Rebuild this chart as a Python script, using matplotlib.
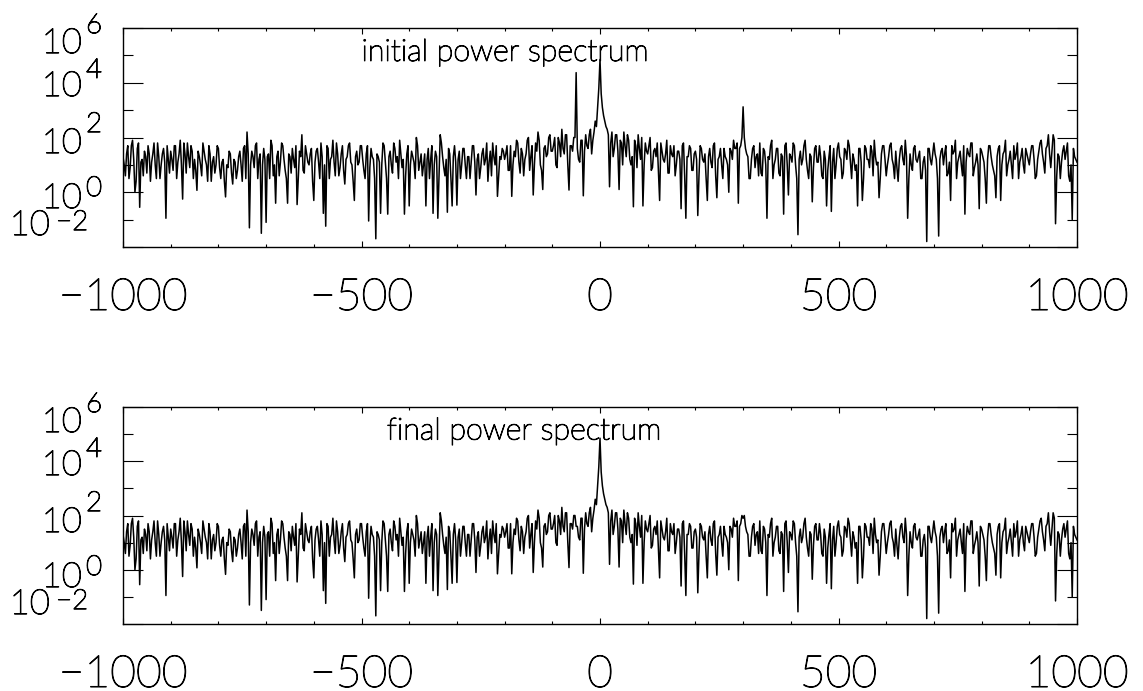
import numpy as np
import matplotlib
matplotlib.use("Agg")
import matplotlib.pyplot as plt
import matplotlib.patheffects as pe
from matplotlib.ticker import MultipleLocator
from matplotlib.transforms import blended_transform_factory, ScaledTranslation

plt.rcParams['font.family'] = ['Lato', 'DejaVu Sans']
plt.rcParams['font.weight'] = 'light'

# frequency grid: samples every 5 units plus the samples half way between
freq = np.arange(-1000, 1001, 5)
freq_mid = np.arange(-997.5, 1000, 5)

# log10 of the power, 20 values per 100 units
log_power_initial = [
    1.3, 0.6, 1.7, 0.9, 1.9, 0.0, 1.6, -0.55, 1.2, 1.5, 0.7, 1.4, 1.1, 1.8, 0.5, 1.3, 1.0, 1.6, -0.95, 1.2,
    1.5, 0.8, 1.7, 1.1, 1.9, -0.25, 1.4, 1.8, 0.9, 1.5, 1.2, 0.07, 1.3, 0.6, 1.5, 1.0, 1.7, 0.4, 1.3, 1.0,
    1.6, 0.5, 1.2, -0.17, 0.9, 1.4, 0.3, 1.1, 0.8, 1.5, 0.4, 1.7, 2.2, -1.3, 1.5, 0.9, 1.8, 1.2, -1.5, 1.6,
    -1.1, 1.4, 1.9, 0.6, -0.4, 1.5, 1.1, 1.7, 0.8, -0.4, 1.3, 1.6, 0.9, -0.45, 1.5, 2.1, 0.7, 1.4, 1.0, 1.6,
    -0.3, 1.5, 1.1, 1.8, -0.77, -1.24, 1.6, 1.2, 1.9, 0.6, 1.4, 0.9, 1.7, 0.3, 1.3, 1.8, 1.0, -0.3, 1.5, 1.1,
    1.7, 0.8, 1.4, -1.05, 1.6, 1.2, -1.7, 1.3, -0.77, 1.8, 1.1, -0.8, 1.5, 0.7, 1.6, 1.3, 1.9, 0.9, -0.8, 1.4,
    -0.5, 1.5, 1.1, 2.0, 0.8, 1.4, 1.0, -0.5, 1.6, 1.2, -0.77, 1.5, -0.95, 2.1, 1.3, 0.6, -0.73, 1.4, -0.5, 1.7,
    -0.47, 1.5, 1.0, 1.6, 0.5, 1.3, 1.1, 1.7, -0.1, 1.4, 0.9, 1.6, 1.2, 0.4, 1.5, 1.8, 1.0, -0.15, 1.3, 1.6,
    1.2, 1.7, 0.8, -0.15, 1.5, 1.9, 1.1, 1.6, 0.6, 1.4, 2.0, 1.3, -0.1, 1.8, 2.2, 1.0, 0.1, 1.7, 1.4, 2.1,
    1.5, 2.0, 0.9, 1.8, 2.3, 1.4, 2.1, 0.08, 1.7, 2.0, 4.37, 1.2, 1.9, -0.13, 2.1, 1.6, 2.3, 1.9, 2.6, 3.1,
    4.85, 3.1, 2.6, 2.3, 0.2, 2.2, 1.6, 2.1, 0.1, 1.8, 2.2, 1.3, 1.9, 1.0, -0.53, 1.7, 2.1, 1.2, -0.5, 1.8,
    1.4, 2.0, 0.9, 1.6, 1.8, -0.3, 1.5, 1.1, 1.9, 0.7, 1.4, 1.7, 1.0, 1.5, -0.6, 1.8, -0.95, 1.3, 1.6, 0.8,
    1.5, -0.85, 1.7, 1.2, 1.4, -0.3, 1.6, 0.9, 1.8, -0.2, 1.3, 1.0, 1.6, 1.2, 0.0, 1.5, 1.9, 1.6, -0.4, 1.7,
    3.12, 1.6, 1.3, 0.5, 1.6, 0.9, 1.4, 1.8, 0.6, 1.5, -0.95, 1.2, 1.9, 1.0, 1.6, 0.7, 1.4, -0.8, 1.8, -0.1,
    1.3, 1.8, 1.0, -1.55, 1.5, 1.2, 1.9, 0.8, 1.4, -0.35, 1.6, 1.1, 1.7, 0.6, 1.5, -0.5, 1.3, -0.7, 1.6, 1.0,
    1.8, 1.2, 0.7, 1.5, 1.9, 1.1, 1.4, 0.8, -0.5, 1.6, -0.3, 1.7, 1.2, 0.9, 1.5, 1.9, 1.0, -0.2, 1.4, 1.7,
    0.6, 1.3, 1.8, 1.0, 1.5, 0.4, 1.6, 1.2, 1.9, -0.95, 1.4, 0.8, 1.7, 1.1, 1.5, 0.5, 1.3, -1.8, 1.6, 1.0,
    1.8, 1.2, -1.6, 1.5, 1.0, 1.7, 0.7, -0.3, 1.4, 1.9, 1.1, 1.5, 0.6, -0.8, 1.6, 1.3, 1.8, 0.9, 1.4, -0.6,
    1.5, 1.1, -0.4, 1.7, 1.3, 0.8, -0.2, 1.6, -0.3, 1.4, 1.9, 1.0, 1.5, 0.5, 1.2, 1.8, 1.1, 1.6, 0.7, 1.4,
    1.0, 1.7, 1.2, 0.6, 1.5, 1.9, 1.1, 1.6, 2.1, 0.9, 2.1, -1.15, 1.4, 0.5, 1.5, 1.2, 1.8, 0.4, -1.0, 1.3,
    1.1,
]

# in-between samples (x = -997.5 ... 997.5)
log_power_mid = [
    1.0, 1.4, 0.5, 1.7, 1.2, 0.4, 1.8, 1.1, 0.6, 1.3, 1.7, 0.4, 1.4, 1.0, 1.8, 0.5, 1.4, 1.1, 1.7, 0.7,
    1.2, 1.7, 0.5, 1.4, 1.0, 1.8, 0.7, 1.3, 1.7, 0.5, 0.8, 1.5, 1.0, 1.8, 1.2, 0.4, 1.4, 1.1, 0.7, 1.7,
    0.9, 1.1, 0.4, 1.0, 1.5, 0.7, 1.2, 0.5, 1.3, 1.0, 1.6, 0.5, 1.4, 1.0, 1.3, 1.7, 0.5, 1.4, 1.0, 1.2,
    1.3, 0.5, 1.7, 1.0, 1.3, 0.6, 1.8, 1.2, 0.5, 1.4, 0.7, 1.2, 1.7, 0.5, 1.3, 0.8, 1.7, 1.1, 1.4, 0.4,
    1.1, 1.6, 0.5, 1.3, 1.0, 1.7, 0.5, 1.3, 1.1, 1.8, 0.6, 1.4, 0.8, 1.2, 1.7, 1.1, 0.4, 1.3, 1.0, 1.7,
    1.2, 0.5, 1.7, 0.9, 1.3, 0.5, 1.4, 1.1, 1.0, 1.7, 0.5, 1.3, 1.0, 1.8, 1.1, 0.5, 1.4, 1.2, 0.6, 1.7,
    1.0, 1.3, 0.5, 1.7, 1.1, 0.6, 1.4, 1.2, 0.5, 1.7, 1.0, 1.3, 0.6, 1.8, 0.9, 1.2, 1.6, 0.5, 1.3, 1.1,
    1.2, 0.5, 1.6, 1.0, 1.3, 0.5, 1.7, 1.1, 1.2, 0.5, 1.4, 1.0, 1.8, 1.1, 0.6, 1.3, 1.7, 0.6, 1.2, 1.5,
    1.4, 0.8, 1.7, 1.0, 1.3, 1.8, 0.7, 1.4, 1.2, 1.9, 0.8, 1.7, 1.0, 1.5, 1.9, 0.8, 1.6, 1.3, 2.0, 1.5,
    1.7, 1.0, 2.0, 1.3, 1.6, 2.1, 1.0, 1.7, 1.5, 2.0, 1.6, 1.1, 1.9, 1.5, 1.7, 2.1, 1.4, 2.2, 2.4, 3.8,
    3.6, 2.8, 2.4, 2.1, 1.8, 1.3, 2.1, 1.5, 1.9, 1.0, 1.7, 2.1, 1.2, 1.3, 1.9, 0.9, 1.6, 2.0, 1.0, 1.5,
    1.7, 0.8, 1.5, 1.3, 0.7, 1.8, 1.2, 1.4, 0.7, 1.7, 1.3, 0.6, 1.5, 1.2, 1.7, 0.6, 1.3, 1.7, 0.8, 1.4,
    1.2, 0.6, 1.6, 1.1, 0.5, 1.3, 1.1, 1.7, 0.6, 1.2, 1.6, 0.5, 1.3, 1.0, 1.6, 1.2, 1.6, 1.8, 1.6, 2.0,
    2.0, 1.4, 0.5, 1.2, 1.7, 1.3, 0.6, 0.7, 1.6, 1.0, 1.3, 1.7, 0.5, 1.2, 1.6, 0.6, 1.3, 1.7, 1.0, 1.4,
    1.1, 1.7, 0.5, 1.2, 1.0, 1.7, 1.2, 0.5, 1.3, 0.9, 1.7, 1.1, 1.3, 0.5, 1.2, 0.8, 1.7, 1.1, 0.5, 1.6,
    1.3, 0.5, 1.6, 1.2, 1.7, 0.5, 1.2, 1.0, 1.6, 1.1, 0.5, 1.6, 1.2, 1.7, 0.6, 1.3, 1.1, 0.5, 1.7, 1.2,
    1.0, 1.7, 1.2, 0.5, 0.9, 1.2, 1.7, 1.0, 1.3, 0.5, 1.0, 1.6, 1.2, 1.3, 0.5, 1.1, 0.8, 1.6, 1.2, 1.4,
    1.4, 0.5, 1.2, 1.6, 1.4, 0.6, 1.1, 1.7, 1.5, 0.5, 1.3, 1.0, 1.7, 1.1, 1.4, 1.8, 0.6, 1.1, 1.0, 1.6,
    1.3, 0.5, 1.2, 1.7, 1.0, 0.6, 1.3, 1.7, 1.0, 1.5, 0.6, 1.2, 1.0, 1.7, 1.4, 0.5, 1.3, 1.0, 1.6, 1.2,
    1.4, 1.7, 0.5, 1.2, 1.8, 1.4, 0.7, 1.7, 1.4, 1.5, 1.9, 0.6, 1.3, 1.1, 1.7, 1.5, 0.6, 1.0, 1.6, 1.2,
]

# the final spectrum has the two narrow lines at -50 and 300 removed
final_fix = {-50: 1.6, 300: 1.9}
log_power_final = list(log_power_initial)
for f, v in final_fix.items():
    log_power_final[int((f + 1000) // 5)] = v

titles = ['initial power spectrum', 'final power spectrum']
title_x = [-500, -447]
xtick_vals = [-1000, -500, 0, 500, 1000]
xtick_labels = ['\u22121000', '\u2212500', '0', '500', '1000']
ytick_exps = [6, 4, 2, 0, -2]
ytick_exp_labels = ['6', '4', '2', '0', '\u22122']

fig = plt.figure(figsize=(11.43, 6.91), dpi=100)
W, H = 1143, 691
ax_top = fig.add_axes([123 / W, 1 - 247 / H, 954 / W, 219 / H])
ax_bot = fig.add_axes([123 / W, 1 - 624 / H, 954 / W, 217 / H])

# IDL style labels: baseline in pixels below the axes top
main_off = {6: 53, 4: 96, 2: 153, 0: 208, -2: 235}
exp_off = {6: 33, 4: 78, 2: 132, 0: 196, -2: 230}
ink = [pe.withStroke(linewidth=0.8, foreground='black')]


def px(dx, dy):
    return ScaledTranslation(dx / 100, -dy / 100, fig.dpi_scale_trans)


def merged(main_vals):
    x = np.empty(len(freq) + len(freq_mid))
    y = np.empty_like(x)
    x[0::2], x[1::2] = freq, freq_mid
    y[0::2], y[1::2] = main_vals, log_power_mid
    return x, 10 ** y


for ax, logp, title, tx in zip([ax_top, ax_bot], [log_power_initial, log_power_final], titles, title_x):
    xs, ys = merged(logp)
    ax.plot(xs, ys, color='black', lw=1.1)
    ax.set_yscale('log')
    ax.set_xlim(-1000, 1000)
    ax.set_ylim(1e-2, 1e6)
    ax.set_yticks([10.0 ** e for e in ytick_exps])
    ax.set_yticks([1e-1, 1e1, 1e3, 1e5], minor=True)
    ax.set_yticklabels([])
    ax.set_yticklabels([], minor=True)
    ax.tick_params(axis='y', which='major', direction='in', length=14.4, width=0.8,
                   left=True, right=True, labelleft=False)
    ax.tick_params(axis='y', which='minor', direction='in', length=7.2, width=0.8,
                   left=True, right=True, labelleft=False)
    ax.set_xticks(xtick_vals)
    ax.set_xticklabels(xtick_labels)
    ax.xaxis.set_minor_locator(MultipleLocator(100))
    ax.tick_params(axis='x', which='major', direction='in', length=4.3, width=0.8,
                   top=True, bottom=True, pad=23, labelsize=32)
    ax.tick_params(axis='x', which='minor', direction='in', length=2.2, width=0.8,
                   top=True, bottom=True)
    for lab in ax.get_xticklabels():
        lab.set_path_effects(ink)
    for sp in ax.spines.values():
        sp.set_linewidth(1.0)

    base = blended_transform_factory(ax.transAxes, ax.transAxes)
    for e, el in zip(ytick_exps, ytick_exp_labels):
        x_main = -41 if e != -2 else -73
        x_exp = -37 if e != -2 else -67
        ax.text(0, 1, '10', transform=base + px(x_main, main_off[e] - 28),
                ha='right', va='baseline', fontsize=25, path_effects=ink)
        ax.text(0, 1, el, transform=base + px(x_exp, exp_off[e] - 28),
                ha='left', va='baseline', fontsize=20, path_effects=ink)

    ax.text(tx, 10 ** 4.8, title, ha='left', va='baseline', fontsize=22, path_effects=ink)

fig.savefig('out.png', dpi=100)
